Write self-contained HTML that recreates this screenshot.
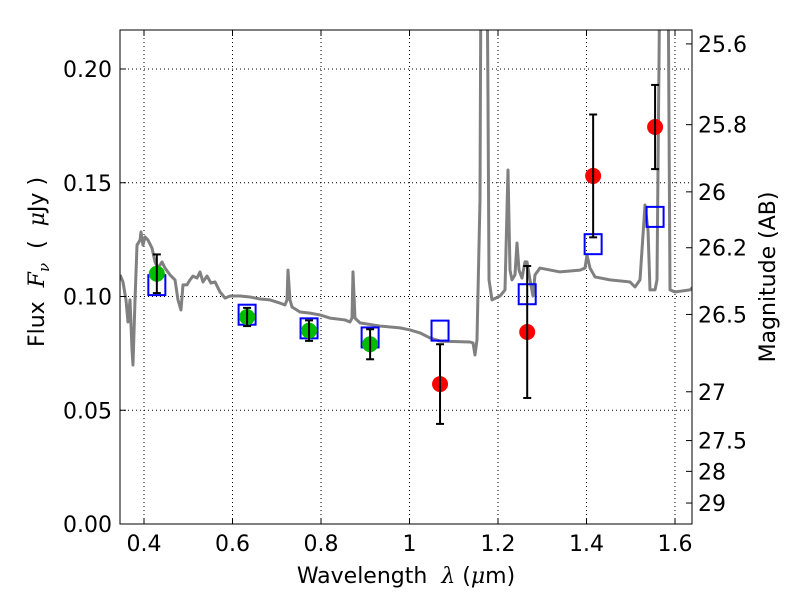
<!DOCTYPE html>
<html><head><meta charset="utf-8"><style>
body{margin:0;background:#fff}
svg text{font-family:"DejaVu Sans","Liberation Sans",sans-serif;fill:#000}
</style></head><body>
<svg id="chart" width="800" height="600" viewBox="0 0 800 600">
<defs><clipPath id="clip"><rect x="120" y="30" width="572" height="494"/></clipPath></defs>
<g id="grid"></g>
<g id="spec" clip-path="url(#clip)"></g>
<g id="marks" clip-path="url(#clip)"></g>
<rect x="120" y="30" width="572" height="494" fill="none" stroke="#000" stroke-width="1"/>
<g id="axes"></g>
<text x="406" y="583" font-size="22" text-anchor="middle" xml:space="preserve">Wavelength  <tspan font-style="italic" font-family="DejaVu Serif">λ</tspan> (<tspan font-style="italic" font-family="DejaVu Serif">μ</tspan>m)</text>
<text transform="translate(44,262) rotate(-90)" font-size="22" text-anchor="middle" xml:space="preserve">Flux  <tspan font-style="italic" font-family="DejaVu Serif">F</tspan><tspan font-style="italic" font-family="DejaVu Serif" font-size="15" dy="5">ν</tspan><tspan dy="-5">  (  </tspan><tspan font-style="italic" font-family="DejaVu Serif">μ</tspan>Jy )</text>
<text transform="translate(775,277) rotate(-90)" font-size="22" text-anchor="middle">Magnitude (AB)</text>
</svg>
<script>
const specWl=[0.346,0.3525,0.3593,0.3638,0.3684,0.3729,0.3751,0.3797,0.3842,0.391,0.3932,0.3977,0.4023,0.409,0.4181,0.4249,0.4316,0.4407,0.4475,0.4588,0.4701,0.4768,0.4836,0.4881,0.4972,0.504,0.5107,0.5198,0.5266,0.5333,0.5424,0.5514,0.5605,0.5718,0.5831,0.5944,0.6169,0.6395,0.6621,0.6847,0.7073,0.7186,0.7232,0.7254,0.7299,0.7345,0.7525,0.7751,0.7977,0.8203,0.8542,0.8655,0.8701,0.8723,0.8768,0.8881,0.9333,0.9785,1.0011,1.0237,1.0463,1.0689,1.1367,1.1435,1.148,1.1525,1.1593,1.1616,1.1751,1.1774,1.1797,1.1864,1.2045,1.2158,1.2226,1.2271,1.2316,1.2384,1.2429,1.2475,1.2542,1.261,1.2655,1.2723,1.2791,1.2836,1.2949,1.3401,1.3853,1.3966,1.4011,1.4079,1.4192,1.4531,1.4983,1.5096,1.5209,1.5322,1.539,1.5435,1.5548,1.5593,1.5661,1.5842,1.5887,1.6,1.6339,1.645];
const specFlux=[0.1095,0.1064,0.0985,0.0888,0.0985,0.0765,0.0699,0.0985,0.1226,0.1248,0.1284,0.1226,0.1262,0.1248,0.1213,0.1152,0.1125,0.1152,0.1125,0.1095,0.1073,0.0985,0.0941,0.1051,0.1051,0.1073,0.109,0.1081,0.1108,0.1064,0.109,0.1059,0.1064,0.102,0.0993,0.1002,0.1002,0.0998,0.0989,0.0985,0.0971,0.0963,0.0985,0.1116,0.0985,0.0954,0.0932,0.0927,0.0919,0.0905,0.0897,0.0888,0.0905,0.1108,0.0905,0.0884,0.087,0.0862,0.0853,0.084,0.0818,0.0804,0.08,0.0796,0.0743,0.0809,0.1424,0.25,0.25,0.1864,0.1073,0.0985,0.1002,0.1029,0.1556,0.1116,0.1073,0.1095,0.1235,0.1116,0.1081,0.1152,0.1152,0.1073,0.1002,0.1095,0.1125,0.1108,0.1116,0.1125,0.1182,0.1125,0.1086,0.1073,0.1064,0.1042,0.1073,0.1402,0.1292,0.1029,0.1029,0.1073,0.25,0.25,0.1029,0.102,0.1029,0.105];
const greenWl=[0.429,0.633,0.773,0.911];
const greenFlux=[0.110,0.091,0.085,0.079];
const greenErr=[0.0085,0.004,0.0045,0.0066];
const modelWl=[0.429,0.633,0.773,0.911,1.069,1.266,1.415,1.555];
const modelFlux=[0.105,0.092,0.086,0.082,0.085,0.101,0.123,0.135];
const redWl=[1.069,1.266,1.415,1.555];
const redFlux=[0.0615,0.0844,0.153,0.1745];
const redErr=[0.0175,0.029,0.027,0.0185];
const xTicks=[0.4,0.6,0.8,1.0,1.2,1.4,1.6];
const xTickLabels=["0.4","0.6","0.8","1","1.2","1.4","1.6"];
const yTicks=[0,0.05,0.10,0.15,0.20];
const yTickLabels=["0.00","0.05","0.10","0.15","0.20"];
const magTicks=[25.6,25.8,26,26.2,26.5,27,27.5,28,29];
const magTickLabels=["25.6","25.8","26","26.2","26.5","27","27.5","28","29"];

const X=w=>144+(w-0.4)*442.5;
const Y=f=>524-f*2275;
const magToFlux=m=>0.146*Math.pow(10,-0.4*(m-26));
const NS="http://www.w3.org/2000/svg";
function mk(t,a,p){const e=document.createElementNS(NS,t);for(const k in a)e.setAttribute(k,a[k]);p.appendChild(e);return e;}
const grid=document.getElementById('grid'),axes=document.getElementById('axes');
xTicks.forEach((t,i)=>{const x=X(t);
 const g=mk('line',{x1:x,x2:x,y1:30,y2:524,stroke:'#000','stroke-dasharray':'1,3','stroke-width':1},grid);
 
 mk('line',{x1:x,x2:x,y1:524,y2:518,stroke:'#000'},axes);mk('line',{x1:x,x2:x,y1:30,y2:36,stroke:'#000'},axes);
 const l=mk('text',{x:x,y:551,'font-size':22,'text-anchor':'middle'},axes);l.textContent=xTickLabels[i];
 });
yTicks.forEach((t,i)=>{const y=Y(t);
 const g=mk('line',{x1:120,x2:692,y1:y,y2:y,stroke:'#000','stroke-dasharray':'1,3','stroke-width':1},grid);
 
 mk('line',{x1:120,x2:126,y1:y,y2:y,stroke:'#000'},axes);
 const l=mk('text',{x:112,y:y+8,'font-size':22,'text-anchor':'end'},axes);l.textContent=yTickLabels[i];
 });
magTicks.forEach((m,i)=>{const y=Y(magToFlux(m));
 mk('line',{x1:686,x2:692,y1:y,y2:y,stroke:'#000'},axes);
 const l=mk('text',{x:698,y:y+8,'font-size':22},axes);l.textContent=magTickLabels[i];
 });
const spec=document.getElementById('spec');
const pl=mk('polyline',{points:specWl.map((w,i)=>X(w)+','+Y(specFlux[i])).join(' '),fill:'none',stroke:'#808080','stroke-width':3,'stroke-linejoin':'round'},spec);

const marks=document.getElementById('marks');
function errbar(w,f,e,name){const x=X(w),a=Y(f+e),b=Y(f-e);
 const g=mk('g',{stroke:'#000','stroke-width':2},marks);
 
 mk('line',{x1:x,x2:x,y1:a,y2:b},g);mk('line',{x1:x-4,x2:x+4,y1:a,y2:a},g);mk('line',{x1:x-4,x2:x+4,y1:b,y2:b},g);}
modelWl.forEach((w,i)=>{const r=mk('rect',{x:X(w)-8.5,y:Y(modelFlux[i])-10,width:17,height:20,fill:'none',stroke:'#0000ff','stroke-width':2},marks);
 });
greenWl.forEach((w,i)=>{const c=mk('circle',{cx:X(w),cy:Y(greenFlux[i]),r:8,fill:'#00bb00'},marks);
 
 errbar(w,greenFlux[i],greenErr[i],'detection-errorbar');});
redWl.forEach((w,i)=>{const c=mk('circle',{cx:X(w),cy:Y(redFlux[i]),r:8,fill:'#ff0000'},marks);
 
 errbar(w,redFlux[i],redErr[i],'ir-errorbar');});
</script>
</body></html>
